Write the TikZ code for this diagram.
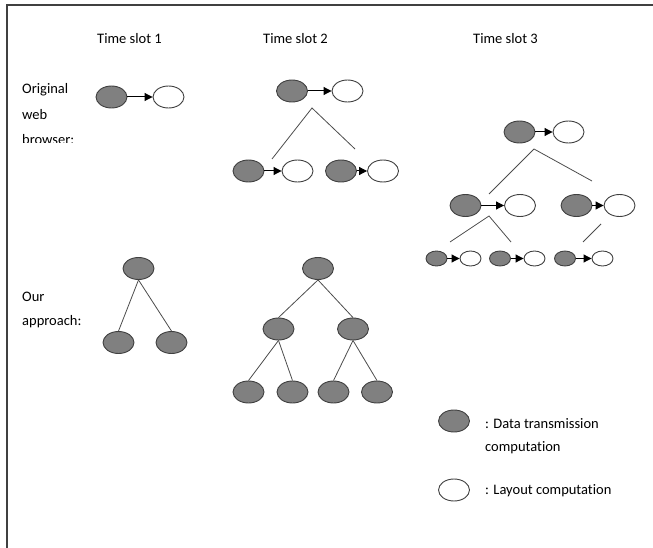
\documentclass[tikz,border=0pt]{standalone}
\usepackage{fontspec}
\setmainfont{Carlito}[Ligatures=NoCommon]
\usepackage{tikz}
\usetikzlibrary{arrows.meta}
\usetikzlibrary{shapes.geometric}

\tikzset{
  dt/.style={draw=black!75, ellipse, fill=gray, line width=0.9pt, inner sep=0pt, minimum width=31pt, minimum height=22pt},
  lo/.style={dt, fill=white},
  dtsmall/.style={dt, minimum width=21pt, minimum height=15pt},
  losmall/.style={dtsmall, fill=white},
  lbl/.style={anchor=base west, inner sep=0pt, font=\fontsize{14.5}{17}\selectfont},
  tree/.style={draw=black!70, line width=0.8pt}
}

\begin{document}
\begin{tikzpicture}[x=1pt, y=-1pt, >={Triangle[length=8pt,width=8pt]}]
        \useasboundingbox (0,0) rectangle (653,548);
        \draw[line width=1.6pt, black!75] (7,548) -- (7,5) -- (653,5);

        % headings
        \node[lbl] (ts1) at (97,44) {Time slot 1};
        \node[lbl] (ts2) at (263,44) {Time slot 2};
        \node[lbl] (ts3) at (473,44) {Time slot 3};
        \node[lbl] (orig1) at (22,94) {Original};
        \node[lbl] (orig2) at (22,120) {web};
        \begin{scope}
            \clip (0,120) rectangle (120,143);
            \node[lbl] (orig3) at (22,145) {browser:};
        \end{scope}
        \node[lbl] (our1) at (22,301) {Our};
        \node[lbl] (our2) at (22,325) {approach:};

        % original web browser, time slot 1
        \node[dt] (s1d) at (111.5,97) {};
        \node[lo] (s1l) at (168.5,97) {};
        \draw[->, line width=1pt] (s1d) -- (s1l);

        % original web browser, time slot 2
        \node[dt] (s2d) at (292,91) {};
        \node[lo] (s2l) at (347.5,91) {};
        \node[dt] (s2d1) at (248.5,171) {};
        \node[lo] (s2l1) at (297.5,171) {};
        \node[dt] (s2d2) at (341,171) {};
        \node[lo] (s2l2) at (383,171) {};
        \draw[->, line width=1pt] (s2d) -- (s2l);
        \draw[->, line width=1pt] (s2d1) -- (s2l1);
        \draw[->, line width=1pt] (s2d2) -- (s2l2);
        \coordinate (s2top) at (312,108);
        \coordinate (s2a) at (272,159);
        \coordinate (s2b) at (355,149);
        \draw[tree] (s2a) -- (s2top) -- (s2b);

        % original web browser, time slot 3
        \node[dt] (s3d) at (519.5,132) {};
        \node[lo] (s3l) at (568.5,132) {};
        \node[dt] (s3d1) at (465.5,205.5) {};
        \node[lo] (s3l1) at (520,205.5) {};
        \node[dt] (s3d2) at (576.5,205.5) {};
        \node[lo] (s3l2) at (619.5,205.5) {};
        \node[dtsmall] (s3d3) at (436.5,258.5) {};
        \node[losmall] (s3l3) at (470.5,258.5) {};
        \node[dtsmall] (s3d4) at (500,258.5) {};
        \node[losmall] (s3l4) at (534.5,258.5) {};
        \node[dtsmall] (s3d5) at (565,258.5) {};
        \node[losmall] (s3l5) at (602.5,258.5) {};
        \draw[->, line width=1pt] (s3d) -- (s3l);
        \draw[->, line width=1pt] (s3d1) -- (s3l1);
        \draw[->, line width=1pt] (s3d2) -- (s3l2);
        \draw[->, line width=1pt] (s3d3) -- (s3l3);
        \draw[->, line width=1pt] (s3d4) -- (s3l4);
        \draw[->, line width=1pt] (s3d5) -- (s3l5);
        \coordinate (s3top) at (534,149);
        \coordinate (s3a) at (489,194);
        \coordinate (s3b) at (592,181);
        \coordinate (s3mid) at (489,216);
        \coordinate (s3c) at (450,242);
        \coordinate (s3e) at (511,242);
        \coordinate (s3f) at (601,224);
        \coordinate (s3g) at (583,242);
        \draw[tree] (s3a) -- (s3top) -- (s3b);
        \draw[tree] (s3c) -- (s3mid) -- (s3e);
        \draw[tree] (s3f) -- (s3g);

        % our approach, time slot 1
        \node[dt] (a1) at (138.5,268.5) {};
        \node[dt] (a2) at (118.5,342.5) {};
        \node[dt] (a3) at (171.5,342.5) {};
        \draw[tree] (a1.south) -- (a2.north);
        \draw[tree] (a1.south) -- (a3.north);

        % our approach, time slot 2
        \node[dt] (b1) at (318,268.5) {};
        \node[dt] (b2) at (278.5,329) {};
        \node[dt] (b3) at (353,329) {};
        \node[dt] (b4) at (248.5,392) {};
        \node[dt] (b5) at (292.5,392) {};
        \node[dt] (b6) at (333.5,392) {};
        \node[dt] (b7) at (377,392) {};
        \draw[tree] (b1.south) -- (b2.north);
        \draw[tree] (b1.south) -- (b3.north);
        \draw[tree] (b2.south) -- (b4.north);
        \draw[tree] (b2.south) -- (b5.north);
        \draw[tree] (b3.south) -- (b6.north);
        \draw[tree] (b3.south) -- (b7.north);

        % legend
        \node[dt] (keyd) at (454,421) {};
        \node[lo] (keyl) at (454,490) {};
        \node[lbl] (keyd1) at (485,428) {: Data transmission};
        \node[lbl] (keyd2) at (485,451) {computation};
        \node[lbl] (keyl1) at (485,494) {: Layout computation};
    \end{tikzpicture}
\end{document}
